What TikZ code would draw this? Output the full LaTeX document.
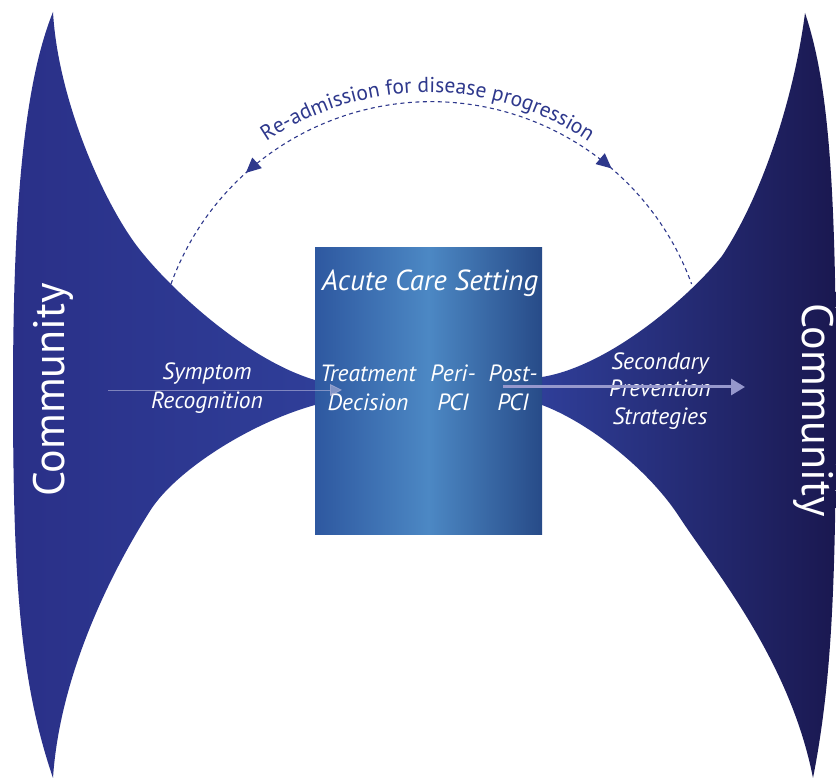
\documentclass[tikz,border=0pt]{standalone}
\usepackage{fontspec}
\setmainfont{PT Sans}
\usepackage{tikz}
\usetikzlibrary{arrows.meta}
\usetikzlibrary{decorations.markings}
\usetikzlibrary{decorations.text}
\definecolor{commleft}{RGB}{42,48,136}
\definecolor{commblue}{RGB}{47,62,152}
\definecolor{commnavy}{RGB}{26,24,80}
\definecolor{boxedge}{RGB}{46,88,160}
\definecolor{boxmid}{RGB}{76,136,196}
\definecolor{arcblue}{RGB}{46,56,140}
\definecolor{flowgrey}{RGB}{150,152,205}

\begin{document}
\begin{tikzpicture}[x=1pt,y=1pt,
    stage/.style={text=white,font=\fontsize{23.5}{29}\selectfont\itshape,align=center,inner sep=0pt},
    community/.style={text=white,font=\fontsize{44}{44}\selectfont,inner sep=0pt},
    acutebox/.style={left color=boxedge,right color=boxedge!85!black,middle color=boxmid,minimum width=227pt,minimum height=287pt,inner sep=0pt},
    readmit/.style={arcblue,line width=1.1pt,dash pattern=on 4pt off 3.5pt},
    flow/.style={flowgrey,line width=3pt,-{Triangle[length=14pt,width=16pt]}},
    flowthin/.style={flowgrey!70!white,opacity=0.6,line width=0.8pt,-{Triangle[length=12pt,width=12pt]}}]
  \useasboundingbox (0,0) rectangle (836,781);

  \shade[left color=commleft,right color=commblue]
    (53,769) .. controls (58,680) and (105,575) .. (140,531)
    .. controls (175,487) and (250,420) .. (315,401)
    -- (315,376) .. controls (250,358) and (175,310) .. (150,270)
    .. controls (115,215) and (60,110) .. (53,3)
    .. controls (20,100) and (13,200) .. (13,390)
    .. controls (13,580) and (25,700) .. (53,769) -- cycle;
  \shade[left color=commblue,right color=commnavy]
    (805,768) .. controls (795,690) and (765,590) .. (722,525)
    .. controls (690,485) and (610,415) .. (542,404)
    -- (542,376) .. controls (590,358) and (650,310) .. (680,263)
    .. controls (715,210) and (790,120) .. (813,3)
    .. controls (832,100) and (836,200) .. (836,390)
    .. controls (836,600) and (828,700) .. (805,768) -- cycle;

  \node[acutebox] (acute) at (428.5,389.5) {};
  \node[stage,font=\fontsize{29}{29}\selectfont\itshape] (setting) at (430,498) {Acute Care Setting};
  \node[stage] (treat) at (368,393) {Treatment\\Decision};
  \node[stage] (peri) at (453,393) {Peri-\\PCI};
  \node[stage] (post) at (513,393) {Post-\\PCI};
  \node[stage] (symptom) at (207,393) {Symptom\\Recognition};
  \node[stage,font=\fontsize{23.5}{27.5}\selectfont\itshape] (secondary) at (660,390) {Secondary\\Prevention\\Strategies};

  \node[community,rotate=90] (commL) at (53,391) {Community};
  \node[community,rotate=-90] (commR) at (814,371) {Community};

  \coordinate (symstart) at (108,391);
  \coordinate (symend) at (342,391);
  \coordinate (postout) at (503,394);
  \coordinate (previn) at (745,394);
  \draw[flowthin] (symstart) -- (symend);
  \draw[flow] (postout) -- (previn);

  \coordinate (readmL) at (171,497);
  \coordinate (readmtext) at (179,545);
  \draw[readmit,postaction={decorate},decoration={markings,
      mark=at position 0.2 with {\arrowreversed{Triangle[length=15pt,width=14pt]}},
      mark=at position 0.79 with {\arrow{Triangle[length=15pt,width=14pt]}}}]
    (readmL) arc[start angle=160,end angle=20,radius=277pt];
  \path[decorate,decoration={text along path,text align=center,
      text={|\fontsize{21.5}{21.5}\selectfont\color{arcblue}|Re-admission for disease progression}}]
    (readmtext) arc[start angle=150,end angle=30,radius=287pt];
\end{tikzpicture}
\end{document}
